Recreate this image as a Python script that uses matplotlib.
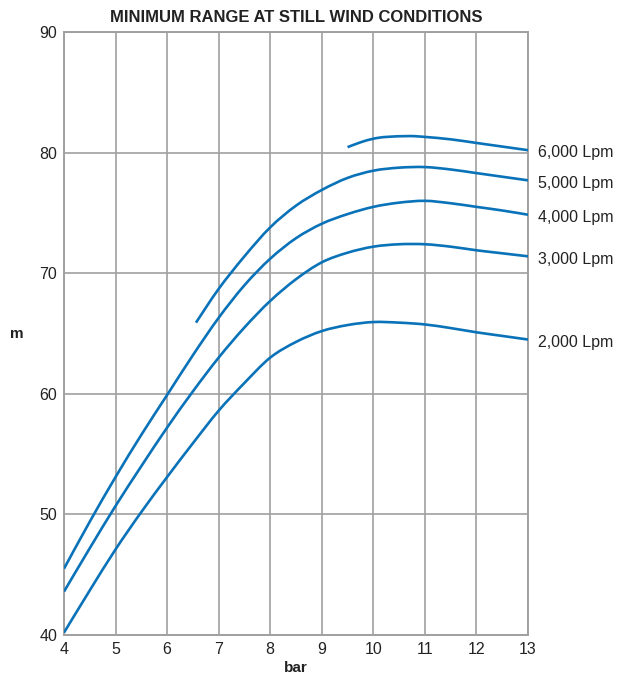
import matplotlib
matplotlib.use("Agg")
import matplotlib.pyplot as plt
from matplotlib.path import Path
from matplotlib.patches import PathPatch

plt.rcParams['font.family'] = ['Liberation Sans', 'DejaVu Sans']

title = "MINIMUM RANGE AT STILL WIND CONDITIONS"
x_label = "bar"
y_label = "m"

x_full = [4, 4.5, 5, 5.5, 6, 6.5, 7, 7.5, 8, 8.5, 9, 9.5, 10, 10.5, 11, 11.5, 12, 12.5, 13]
lpm_2000 = [40.2, 43.7, 47.1, 50.2, 53.1, 55.9, 58.6, 60.9, 63.0, 64.3, 65.2, 65.7, 65.95, 65.9, 65.75, 65.45, 65.1, 64.8, 64.5]
lpm_3000 = [43.6, 47.2, 50.7, 54.0, 57.2, 60.2, 63.0, 65.5, 67.7, 69.5, 70.9, 71.7, 72.2, 72.4, 72.4, 72.2, 71.9, 71.65, 71.4]
lpm_4000 = [45.5, 49.4, 53.1, 56.6, 59.9, 63.2, 66.3, 69.0, 71.2, 72.9, 74.1, 74.9, 75.5, 75.85, 76.0, 75.8, 75.5, 75.2, 74.85]

x_5000 = [6.56, 7, 7.5, 8, 8.5, 9, 9.5, 10, 10.5, 11, 11.5, 12, 12.5, 13]
lpm_5000 = [65.9, 68.7, 71.4, 73.8, 75.6, 76.9, 77.9, 78.5, 78.75, 78.8, 78.6, 78.3, 78.0, 77.7]

x_6000 = [9.5, 9.75, 10, 10.25, 10.7, 11, 11.5, 12, 12.5, 13]
lpm_6000 = [80.45, 80.85, 81.15, 81.3, 81.37, 81.3, 81.1, 80.8, 80.5, 80.2]

series_labels = ["2,000 Lpm", "3,000 Lpm", "4,000 Lpm", "5,000 Lpm", "6,000 Lpm"]

x_ticks = [4, 5, 6, 7, 8, 9, 10, 11, 12, 13]
y_ticks = [40, 50, 60, 70, 80, 90]

blue = "#0a72b8"
grid_c = "#a0a0a0"
text_c = "#222222"


def smooth_path(xs, ys):
    """Catmull-Rom through the read points, drawn as cubic Bezier segments."""
    pts = list(zip(xs, ys))
    verts = [pts[0]]
    codes = [Path.MOVETO]
    n = len(pts)
    for i in range(n - 1):
        p0 = pts[i - 1] if i > 0 else pts[i]
        p1 = pts[i]
        p2 = pts[i + 1]
        p3 = pts[i + 2] if i + 2 < n else pts[i + 1]
        c1 = (p1[0] + (p2[0] - p0[0]) / 6.0, p1[1] + (p2[1] - p0[1]) / 6.0)
        c2 = (p2[0] - (p3[0] - p1[0]) / 6.0, p2[1] - (p3[1] - p1[1]) / 6.0)
        verts += [c1, c2, p2]
        codes += [Path.CURVE4] * 3
    return Path(verts, codes)


fig = plt.figure(figsize=(6.35, 6.77), dpi=100)
ax = fig.add_axes([64/635, 1-635/677, (528-64)/635, (635-32)/677])

series = [(x_full, lpm_2000), (x_full, lpm_3000), (x_full, lpm_4000),
          (x_5000, lpm_5000), (x_6000, lpm_6000)]
for (xs, ys), lab in zip(series, series_labels):
    ax.add_patch(PathPatch(smooth_path(xs, ys), facecolor='none', edgecolor=blue,
                           lw=1.9, capstyle='butt', zorder=3))
    ax.annotate(lab, xy=(xs[-1], ys[-1]), xytext=(7, -2), textcoords='offset points',
                va='center', ha='left', fontsize=11.5, color=text_c, annotation_clip=False)

ax.set_xlim(4, 13)
ax.set_ylim(40, 90)
ax.set_xticks(x_ticks)
ax.set_yticks(y_ticks)
ax.grid(True, color=grid_c, lw=1.2)
ax.set_axisbelow(True)
for s in ax.spines.values():
    s.set_color(grid_c)
    s.set_linewidth(1.4)
ax.tick_params(length=0, labelsize=11.5, labelcolor=text_c, pad=5)

ax.set_title(title, fontsize=12, fontweight='bold', color=text_c, pad=7)
ax.set_xlabel(x_label, fontsize=11, fontweight='bold', color=text_c, labelpad=3)
ax.set_ylabel(y_label, fontsize=11, fontweight='bold', color=text_c, rotation=0, labelpad=16, va='center')

fig.savefig("out.png", dpi=100)
